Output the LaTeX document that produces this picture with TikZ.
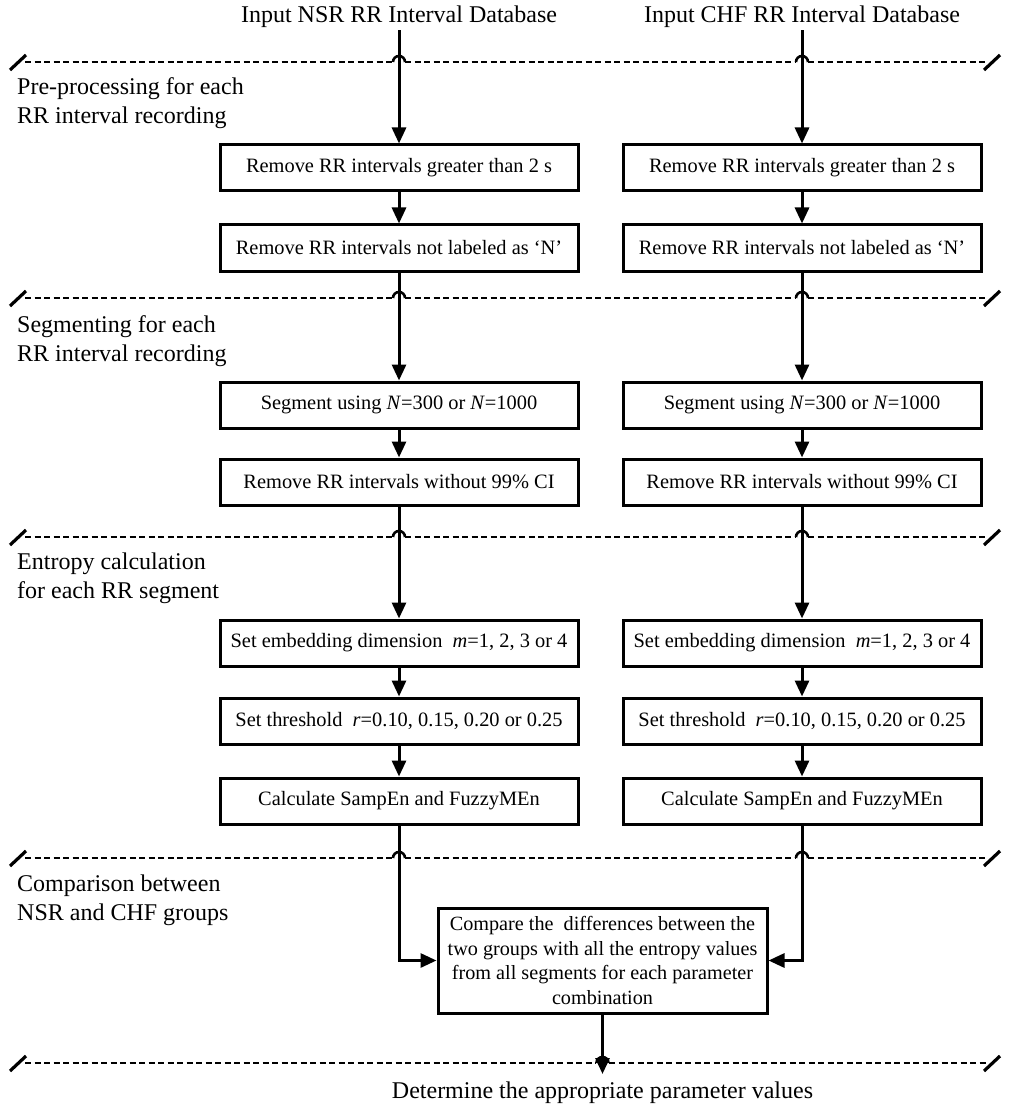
\documentclass[tikz,border=0pt]{standalone}
\usepackage{fontspec}
\setmainfont{Liberation Serif}
\usetikzlibrary{arrows.meta}
\tikzset{
  stepbox/.style={draw, line width=3pt, minimum width=358pt, minimum height=46pt, inner sep=0pt, font=\fontsize{20.4}{24}\selectfont, align=center},
  cmpbox/.style={draw, line width=3pt, minimum width=329pt, minimum height=105pt, inner sep=0pt, font=\fontsize{20.2}{24.5}\selectfont, align=center},
  titletext/.style={font=\fontsize{24}{28}\selectfont, inner sep=2pt},
  seclabel/.style={font=\fontsize{24}{29}\selectfont, align=left, anchor=west, inner sep=0pt},
  arr/.style={line width=3pt, -{Triangle[length=16pt,width=14pt]}},
  sep/.style={line width=2.8pt, dash pattern=on 6pt off 3.5pt},
  hop/.style={line width=2.6pt},
  slash/.style={line width=3.2pt},
}
\begin{document}
\begin{tikzpicture}[x=1pt,y=-1pt]
\useasboundingbox (0,0) rectangle (1024,1115);
% titles
\node[titletext] (tn) at (399,17) {Input NSR RR Interval Database};
\node[titletext] (tc) at (802,17) {Input CHF RR Interval Database};
% separators with hops
\foreach \yy in {62,298,537,858}{
  \draw[sep] (25,\yy) -- (394,\yy);
  \draw[hop] (393,\yy) arc[start angle=180,end angle=360,radius=6];
  \draw[sep] (405,\yy) -- (796,\yy);
  \draw[hop] (796,\yy) arc[start angle=180,end angle=360,radius=6];
  \draw[sep] (808,\yy) -- (986,\yy);
  \draw[slash] (10,\yy+8) -- (26,\yy-7);
  \draw[slash] (984,\yy+8) -- (1000,\yy-7);
}
\draw[sep] (25,1063) -- (596,1063);
\draw[hop] (596.5,1063) arc[start angle=180,end angle=360,radius=6];
\draw[sep] (609,1063) -- (986,1063);
\draw[slash] (10,1071) -- (26,1056);
\draw[slash] (984,1071) -- (1000,1056);
% section labels
\node[seclabel] (s1) at (17,103) {Pre-processing for each\\RR interval recording};
\node[seclabel] (s2) at (17,341) {Segmenting for each\\RR interval recording};
\node[seclabel] (s3) at (17,578) {Entropy calculation\\for each RR segment};
\node[seclabel] (s4) at (17,900) {Comparison between\\NSR and CHF groups};
% left column
\node[stepbox] (l1) at (399,168) {Remove RR intervals greater than 2 s};
\node[stepbox] (l2) at (399,248) {Remove RR intervals not labeled as ‘N’};
\node[stepbox] (l3) at (399,405) {Segment using \textit{N}=300 or \textit{N}=1000};
\node[stepbox] (l4) at (399,482) {Remove RR intervals without 99\% CI};
\node[stepbox] (l5) at (399,643) {Set embedding dimension~ \textit{m}=1, 2, 3 or 4};
\node[stepbox] (l6) at (399,721) {Set threshold~ \textit{r}=0.10, 0.15, 0.20 or 0.25};
\node[stepbox] (l7) at (399,801) {Calculate SampEn and FuzzyMEn};
% right column
\node[stepbox] (r1) at (802,168) {Remove RR intervals greater than 2 s};
\node[stepbox] (r2) at (802,248) {Remove RR intervals not labeled as ‘N’};
\node[stepbox] (r3) at (802,405) {Segment using \textit{N}=300 or \textit{N}=1000};
\node[stepbox] (r4) at (802,482) {Remove RR intervals without 99\% CI};
\node[stepbox] (r5) at (802,643) {Set embedding dimension~ \textit{m}=1, 2, 3 or 4};
\node[stepbox] (r6) at (802,721) {Set threshold~ \textit{r}=0.10, 0.15, 0.20 or 0.25};
\node[stepbox] (r7) at (802,801) {Calculate SampEn and FuzzyMEn};
% compare
\node[cmpbox] (cmp) at (602.5,960.5) {Compare the~ differences between the\\two groups with all the entropy values\\from all segments for each parameter\\combination};
\node[titletext, anchor=north, inner xsep=3pt, inner ysep=8pt] (fin) at (602.5,1074) {Determine the appropriate parameter values};
% arrows
\draw[arr] (tn) -- (l1);
\draw[arr] (l1) -- (l2);
\draw[arr] (l2) -- (l3);
\draw[arr] (l3) -- (l4);
\draw[arr] (l4) -- (l5);
\draw[arr] (l5) -- (l6);
\draw[arr] (l6) -- (l7);
\draw[arr] (tc) -- (r1);
\draw[arr] (r1) -- (r2);
\draw[arr] (r2) -- (r3);
\draw[arr] (r3) -- (r4);
\draw[arr] (r4) -- (r5);
\draw[arr] (r5) -- (r6);
\draw[arr] (r6) -- (r7);
\draw[arr] (l7.south) |- (cmp.west);
\draw[arr] (r7.south) |- (cmp.east);
\draw[arr] (cmp.south) -- (fin.north);
\end{tikzpicture}
\end{document}
